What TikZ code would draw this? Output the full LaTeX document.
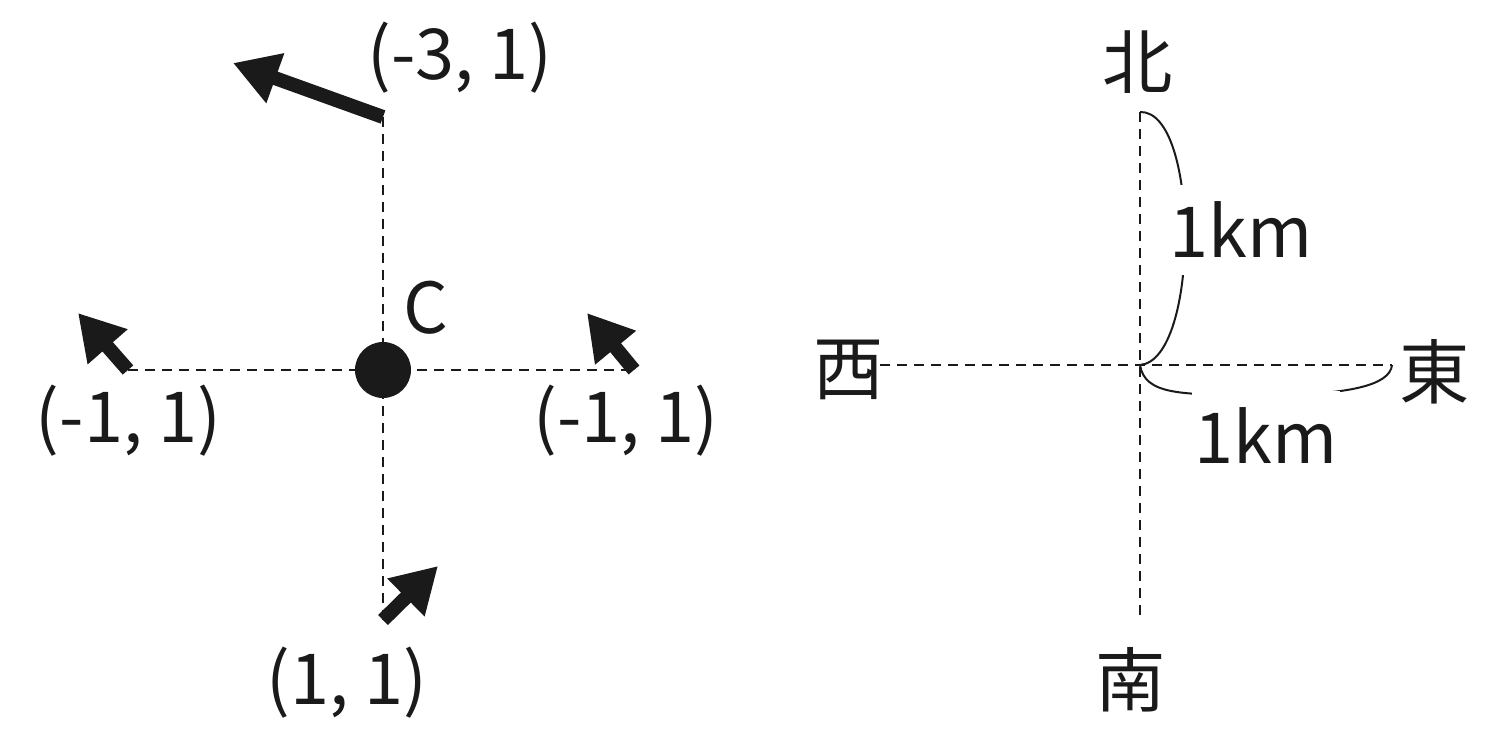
\documentclass[tikz,border=0pt]{standalone}
\usepackage{fontspec}
\setmainfont{Noto Sans CJK JP}
\usetikzlibrary{calc}
\usetikzlibrary{arrows.meta}
\definecolor{ink}{HTML}{1A1A1A}

\begin{document}
\begin{tikzpicture}[
    dashline/.style={dash pattern=on 0.2cm off 0.14cm,line width=0.05cm,color=ink},
    bigarrow/.style={-{Triangle[length=0.9cm,width=1cm]},line width=0.28cm,color=ink},
    lbl/.style={text=ink,font=\fontsize{40}{48}\selectfont,inner sep=0pt},
    kmcurve/.style={line width=0.04cm,color=ink}
  ]
    \useasboundingbox (0,0) rectangle (29.96,-14.76);
    % left picture
    \coordinate (C) at (7.66,-7.40);
    \coordinate (Up) at (7.66,-2.34);
    \coordinate (Down) at (7.66,-12.40);
    \coordinate (Left) at (2.56,-7.40);
    \coordinate (Right) at (12.68,-7.40);
    \coordinate (UpTip) at (4.66,-1.26);
    \coordinate (LeftTip) at (1.56,-6.26);
    \coordinate (RightTip) at (11.74,-6.26);
    \coordinate (DownTip) at (8.76,-11.32);
    \draw [dashline] (Up)--(Down);
    \draw [dashline] (Left)--(Right);
    \draw [bigarrow] (Up)--(UpTip);
    \draw [bigarrow] (Left)--(LeftTip);
    \draw [bigarrow] (Right)--(RightTip);
    \draw [bigarrow] (Down)--(DownTip);
    \node[fill=ink,circle,inner sep=0pt,minimum size=1.12cm] (Dot) at (C){};
    \node[lbl] (cName) at (8.52,-6.16) {C};
    \node[lbl] (upVal) at (9.20,-1.16) {(-3, 1)};
    \node[lbl] (leftVal) at (2.57,-8.42) {(-1, 1)};
    \node[lbl] (rightVal) at (12.52,-8.42) {(-1, 1)};
    \node[lbl] (downVal) at (6.94,-13.66) {(1, 1)};
    % right picture
    \coordinate (O) at (22.80,-7.30);
    \coordinate (N) at (22.80,-2.24);
    \coordinate (S) at (22.80,-12.30);
    \coordinate (W) at (17.60,-7.30);
    \coordinate (E) at (27.84,-7.30);
    \draw [dashline] (N)--(S);
    \draw [dashline] (W)--(E);
    \draw [kmcurve] (N) .. controls (24.0,-2.2) and (24.0,-7.2) .. (O);
    \draw [kmcurve] (O) .. controls (22.9,-7.9) and (23.6,-7.9) .. (25.3,-7.9) .. controls (27.0,-7.9) and (27.8,-7.7) .. (E);
    \node[lbl] (north) at (22.76,-1.24) {北};
    \node[lbl] (south) at (22.62,-13.60) {南};
    \node[lbl] (west) at (16.98,-7.40) {西};
    \node[lbl] (east) at (28.70,-7.44) {東};
    \node[lbl,fill=white,inner xsep=0.1cm,inner ysep=0.34cm] (kmNS) at (24.82,-4.60) {1km};
    \node[lbl,fill=white,inner xsep=0.06cm,inner ysep=0.34cm] (kmWE) at (25.32,-8.72) {1km};
\end{tikzpicture}
\end{document}
